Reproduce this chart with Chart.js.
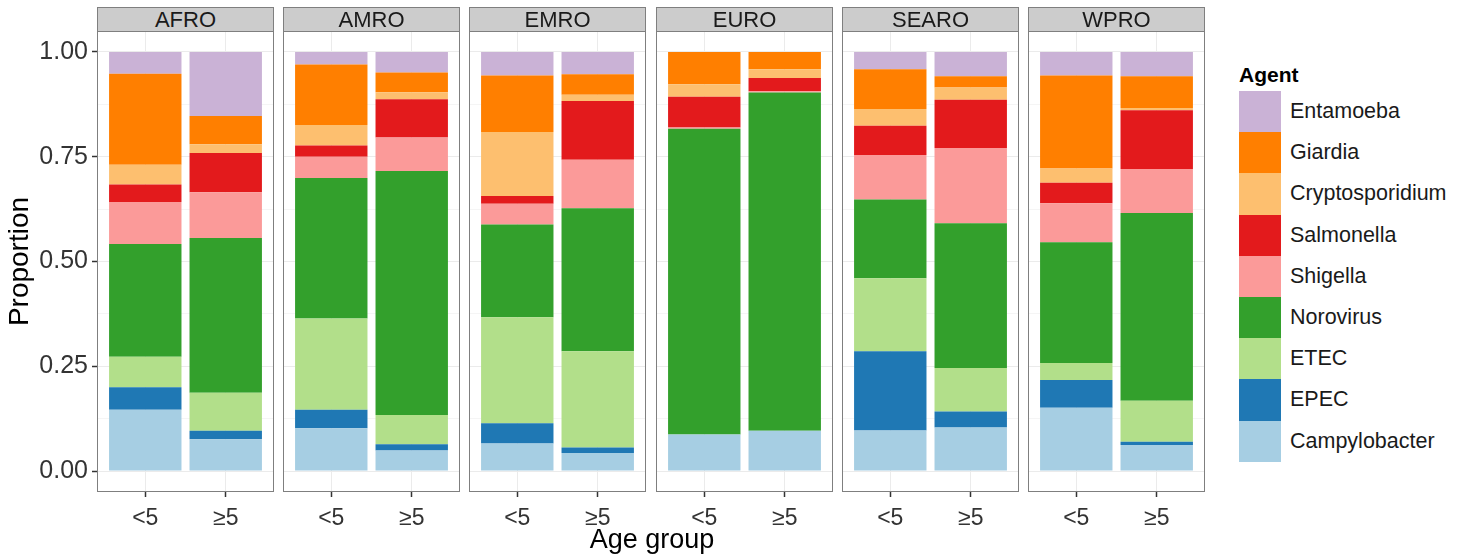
<!DOCTYPE html>
<html>
<head>
<meta charset="utf-8">
<script src="https://cdn.jsdelivr.net/npm/chart.js@4"></script>
<style>
  html, body { margin: 0; padding: 0; background: #ffffff; }
  body { width: 1465px; height: 554px; overflow: hidden; font-family: "Liberation Sans", Arial, sans-serif; }
  #wrap { position: relative; width: 1465px; height: 554px; }
  .panel { position: absolute; }
  .strip { position: absolute; box-sizing: border-box; background: #cccccc; border: 1px solid #7f7f7f;
           text-align: center; color: #1a1a1a; font-size: 22px; z-index: 2; }
  .xtitle { position: absolute; text-align: center; color: #000; font-size: 27px; }
  .legend-title { position: absolute; font-weight: bold; color: #000; font-size: 21px; }
  .key { position: absolute; }
  .key-label { position: absolute; color: #1a1a1a; font-size: 21.5px; white-space: nowrap; }
</style>
</head>
<body>
<div id="wrap"></div>
<script>
// ---------------- data ----------------
const regions = ['AFRO', 'AMRO', 'EMRO', 'EURO', 'SEARO', 'WPRO'];
const ageGroups = ['<5', '≥5'];
const yTickValues = [0, 0.25, 0.5, 0.75, 1];
const yMinorValues = [0.125, 0.375, 0.625, 0.875];

// proportions, order: AFRO<5, AFRO≥5, AMRO<5, AMRO≥5, EMRO<5, EMRO≥5, EURO<5, EURO≥5, SEARO<5, SEARO≥5, WPRO<5, WPRO≥5
const campylobacter   = [0.146, 0.076, 0.102, 0.049, 0.066, 0.043, 0.087, 0.096, 0.097, 0.104, 0.151, 0.062];
const epec            = [0.054, 0.020, 0.044, 0.015, 0.048, 0.013, 0.000, 0.000, 0.189, 0.038, 0.066, 0.008];
const etec            = [0.073, 0.091, 0.218, 0.070, 0.253, 0.230, 0.000, 0.000, 0.174, 0.104, 0.041, 0.098];
const norovirus       = [0.269, 0.369, 0.335, 0.582, 0.221, 0.341, 0.730, 0.807, 0.188, 0.345, 0.288, 0.448];
const shigella        = [0.100, 0.109, 0.051, 0.080, 0.050, 0.116, 0.003, 0.003, 0.106, 0.180, 0.093, 0.105];
const salmonella      = [0.042, 0.094, 0.027, 0.091, 0.018, 0.140, 0.073, 0.032, 0.070, 0.115, 0.049, 0.140];
const cryptosporidium = [0.047, 0.021, 0.049, 0.017, 0.153, 0.015, 0.030, 0.021, 0.040, 0.029, 0.034, 0.005];
const giardia         = [0.217, 0.067, 0.144, 0.047, 0.135, 0.049, 0.077, 0.041, 0.095, 0.027, 0.222, 0.076];
const entamoeba       = [0.052, 0.153, 0.030, 0.049, 0.056, 0.053, 0.000, 0.000, 0.041, 0.058, 0.056, 0.058];

// stacking order bottom -> top
const agentNames  = ['Campylobacter', 'EPEC', 'ETEC', 'Norovirus', 'Shigella', 'Salmonella', 'Cryptosporidium', 'Giardia', 'Entamoeba'];
const agentValues = [campylobacter, epec, etec, norovirus, shigella, salmonella, cryptosporidium, giardia, entamoeba];
const agentColors = ['#A6CEE3', '#1F78B4', '#B2DF8A', '#33A02C', '#FB9A99', '#E31A1C', '#FDBF6F', '#FF7F00', '#CAB2D6'];

// ---------------- layout ----------------
const FONT = '"Liberation Sans", Arial, sans-serif';
const PANEL_LEFT0 = 97, PANEL_STEP = 186.2, PANEL_W = 177;
const PANEL_TOP = 31, CANVAS_H = 500, XAXIS_H = 39, YAXIS_W = 97;
const STRIP_TOP = 7, STRIP_H = 25;

const wrap = document.getElementById('wrap');

const panelBorder = {
  id: 'panelBorder',
  afterDraw(chart) {
    const { ctx, chartArea: a } = chart;
    ctx.save();
    ctx.strokeStyle = '#7f7f7f';
    ctx.lineWidth = 1;
    ctx.strokeRect(a.left + 0.5, a.top + 0.5, a.right - a.left - 1, a.bottom - a.top - 1);
    ctx.restore();
  }
};

const isMajor = v => yTickValues.some(t => Math.abs(t - v) < 1e-9);
const noPad = s => { s.paddingTop = 0; s.paddingBottom = 0; s.paddingLeft = 0; s.paddingRight = 0; };

regions.forEach((region, i) => {
  const first = i === 0;
  const left = Math.round(PANEL_LEFT0 + i * PANEL_STEP);
  const cLeft = first ? left - YAXIS_W : left;
  const cW = first ? PANEL_W + YAXIS_W : PANEL_W;

  const holder = document.createElement('div');
  holder.className = 'panel';
  holder.style.left = cLeft + 'px';
  holder.style.top = PANEL_TOP + 'px';
  holder.style.width = cW + 'px';
  holder.style.height = CANVAS_H + 'px';
  const canvas = document.createElement('canvas');
  canvas.style.width = cW + 'px';
  canvas.style.height = CANVAS_H + 'px';
  canvas.width = cW;
  canvas.height = CANVAS_H;
  holder.appendChild(canvas);
  wrap.appendChild(holder);

  const strip = document.createElement('div');
  strip.className = 'strip';
  strip.style.left = left + 'px';
  strip.style.top = STRIP_TOP + 'px';
  strip.style.width = PANEL_W + 'px';
  strip.style.height = STRIP_H + 'px';
  strip.style.lineHeight = (STRIP_H - 2) + 'px';
  strip.textContent = region;
  wrap.appendChild(strip);

  const datasets = agentNames.map((name, k) => ({
    label: name,
    data: ageGroups.map((g, j) => ({ x: j + 1, y: agentValues[k][2 * i + j] })),
    backgroundColor: agentColors[k],
    borderWidth: 0,
    categoryPercentage: 1,
    barPercentage: 0.9
  }));

  new Chart(canvas, {
    type: 'bar',
    data: { datasets },
    plugins: [panelBorder],
    options: {
      responsive: false,
      animation: false,
      events: [],
      layout: { padding: 0, autoPadding: false },
      plugins: { legend: { display: false }, tooltip: { enabled: false }, title: { display: false } },
      scales: {
        x: {
          type: 'linear', min: 0.4, max: 2.6, stacked: true, offset: false,
          afterBuildTicks: s => { s.ticks = ageGroups.map((g, j) => ({ value: j + 1 })); },
          afterFit: s => { s.height = XAXIS_H; noPad(s); },
          ticks: {
            callback: v => ageGroups[Math.round(v) - 1],
            color: '#333333', font: { size: 23, family: FONT }, padding: 8,
            maxRotation: 0, minRotation: 0, autoSkip: false
          },
          grid: { offset: false, color: '#ebebeb', lineWidth: 1, tickColor: '#333333', tickLength: 5, tickWidth: 1.5 },
          border: { display: false }
        },
        y: {
          min: -0.05, max: 1.05, stacked: true,
          afterBuildTicks: s => {
            s.ticks = yTickValues.concat(yMinorValues).sort((a, b) => a - b).map(v => ({ value: v }));
          },
          afterFit: s => { s.width = first ? YAXIS_W : 0; noPad(s); },
          ticks: {
            display: first,
            callback: v => isMajor(v) ? v.toFixed(2) : '',
            color: '#333333', font: { size: 25, family: FONT }, padding: 4
          },
          grid: {
            color: '#ebebeb',
            lineWidth: c => (c.tick && isMajor(c.tick.value)) ? 1 : 0.5,
            drawTicks: first, tickLength: 5, tickWidth: 1.5,
            tickColor: c => (c.tick && isMajor(c.tick.value)) ? '#333333' : 'rgba(0,0,0,0)'
          },
          border: { display: false },
          title: {
            display: first, text: 'Proportion', color: '#000000',
            font: { size: 28, family: FONT }, padding: { top: 3, bottom: 0 }
          }
        }
      }
    }
  });
});

// x axis title
const xt = document.createElement('div');
xt.className = 'xtitle';
xt.style.left = '552px';
xt.style.width = '200px';
xt.style.top = '524px';
xt.style.lineHeight = '30px';
xt.textContent = 'Age group';
wrap.appendChild(xt);

// legend (top -> bottom = reverse of stacking order)
const LEG_X = 1239, KEY_TOP = 91, KEY_H = 41.2, KEY_W = 42;
const lt = document.createElement('div');
lt.className = 'legend-title';
lt.style.left = LEG_X + 'px';
lt.style.top = '62px';
lt.style.lineHeight = '26px';
lt.textContent = 'Agent';
wrap.appendChild(lt);

agentNames.slice().reverse().forEach((name, r) => {
  const k = agentNames.length - 1 - r;
  const top = KEY_TOP + r * KEY_H;
  const key = document.createElement('div');
  key.className = 'key';
  key.style.left = LEG_X + 'px';
  key.style.top = top + 'px';
  key.style.width = KEY_W + 'px';
  key.style.height = KEY_H + 'px';
  key.style.background = agentColors[k];
  wrap.appendChild(key);
  const lab = document.createElement('div');
  lab.className = 'key-label';
  lab.style.left = (LEG_X + KEY_W + 9) + 'px';
  lab.style.top = top + 'px';
  lab.style.height = KEY_H + 'px';
  lab.style.lineHeight = KEY_H + 'px';
  lab.textContent = name;
  wrap.appendChild(lab);
});
</script>
</body>
</html>
